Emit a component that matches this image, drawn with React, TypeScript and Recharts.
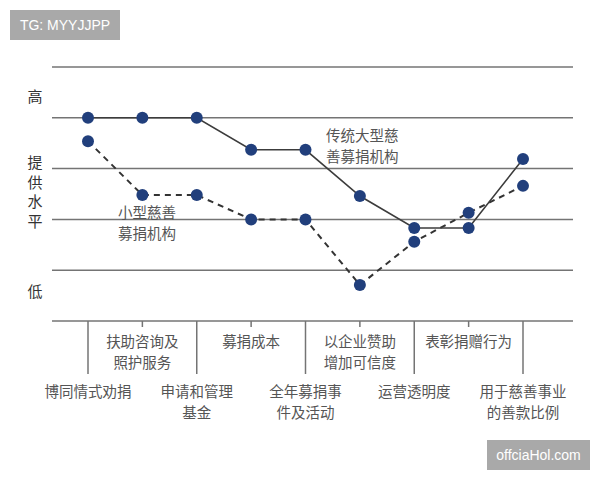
import { LineChart, Line, XAxis, YAxis, ReferenceLine } from 'recharts';

const categories = [
  '博同情式劝捐',
  '扶助咨询及\n照护服务',
  '申请和管理\n基金',
  '募捐成本',
  '全年募捐事\n件及活动',
  '以企业赞助\n增加可信度',
  '运营透明度',
  '表彰捐赠行为',
  '用于慈善事业\n的善款比例',
];
const largeOrg = [4.0, 4.0, 4.0, 3.37, 3.37, 2.46, 1.83, 1.83, 3.19];
const smallOrg = [3.54, 2.48, 2.48, 2.0, 2.0, 0.71, 1.56, 2.13, 2.66];
const gridValues = [1, 2, 3, 4, 5];
const yLabelValues = [4.41, 2.53, 0.57];
const yLabelTexts = ['高', '提供水平', '低'];

const data = categories.map((name, i) => ({ name, large: largeOrg[i], small: smallOrg[i] }));

const FONT = '"Noto Sans CJK SC", "Noto Sans", sans-serif';
const AXIS = '#747474';
const DOT = '#213f7c';

function XTick(props: any) {
  const { x, y, payload, index } = props;
  const lines = String(payload.value).split('\n');
  const lower = index % 2 === 0;
  const start = lower ? 76 : 26;
  return (
    <g>
      <line x1={x} x2={x} y1={y} y2={y + (lower ? 53 : 6)} stroke={AXIS} strokeWidth={1.5} />
      {lines.map((t, k) => (
        <text key={k} x={x} y={y + start + k * 21} textAnchor="middle" fontSize={14.5} fill="#555" fontFamily={FONT}>
          {t}
        </text>
      ))}
    </g>
  );
}

function YTick(props: any) {
  const { x, y, payload } = props;
  const idx = yLabelValues.indexOf(payload.value);
  const chars = (yLabelTexts[idx] ?? '').split('');
  const top = y - ((chars.length - 1) * 19.7) / 2;
  return (
    <g>
      {chars.map((c, k) => (
        <text key={k} x={x - 17} y={top + k * 19.7 + 5} textAnchor="middle" fontSize={15} fill="#333" fontFamily={FONT}>
          {c}
        </text>
      ))}
    </g>
  );
}

const boxStyle: React.CSSProperties = {
  position: 'absolute',
  background: '#a9a9a9',
  color: '#fff',
  fontFamily: '"Liberation Sans", Arial, sans-serif',
  display: 'flex',
  alignItems: 'center',
  justifyContent: 'center',
};

const noteStyle: React.CSSProperties = {
  position: 'absolute',
  color: '#555',
  fontFamily: FONT,
  fontSize: 14.5,
  lineHeight: '21px',
};

export default function App() {
  return (
    <div style={{ position: 'absolute', left: 0, top: 0, width: 600, height: 480, background: '#fff' }}>
      <LineChart width={600} height={480} data={data} margin={{ top: 67, right: 27, bottom: 59, left: 0 }}>
        <XAxis
          dataKey="name"
          height={100}
          padding={{ left: 36, right: 50 }}
          axisLine={{ stroke: AXIS, strokeWidth: 1.5 }}
          tickLine={false}
          tickSize={0}
          tickMargin={0}
          interval={0}
          tick={(p: any) => <XTick {...p} />}
        />
        <YAxis
          width={52}
          domain={[0, 5]}
          ticks={yLabelValues}
          interval={0}
          axisLine={false}
          tickLine={false}
          tickSize={0}
          tickMargin={0}
          tick={(p: any) => <YTick {...p} />}
        />
        {gridValues.map((v) => (
          <ReferenceLine key={v} y={v} stroke={AXIS} strokeWidth={1.5} />
        ))}
        <Line
          dataKey="small"
          stroke="#333"
          strokeWidth={2}
          strokeDasharray="6 5"
          dot={{ r: 6, fill: DOT, stroke: 'none' }}
          isAnimationActive={false}
        />
        <Line
          dataKey="large"
          stroke="#3c3c3c"
          strokeWidth={1.6}
          dot={{ r: 6, fill: DOT, stroke: 'none' }}
          isAnimationActive={false}
        />
      </LineChart>
      <div style={{ ...noteStyle, left: 326, top: 124 }}>
        传统大型慈
        <br />
        善募捐机构
      </div>
      <div style={{ ...noteStyle, left: 118, top: 201 }}>
        小型慈善
        <br />
        募捐机构
      </div>
      <div style={{ ...boxStyle, left: 10, top: 10, width: 110, height: 30, fontSize: 14 }}>TG: MYYJJPP</div>
      <div style={{ ...boxStyle, left: 487, top: 440, width: 103, height: 30, fontSize: 14 }}>offciaHol.com</div>
    </div>
  );
}
